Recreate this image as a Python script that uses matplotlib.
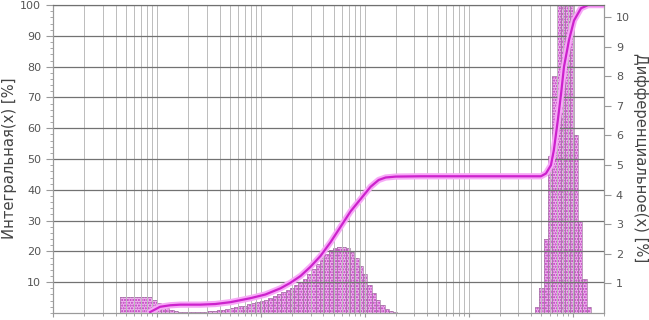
import numpy as np
import matplotlib
matplotlib.use('Agg')
import matplotlib.pyplot as plt
from matplotlib import ticker

plt.rcParams['hatch.linewidth'] = 1.0

# differential distribution, channel edges in um and values in %
fine_edges = [0.044, 0.090]
fine_values = [0.55]

main_edges = [0.0900, 0.0990, 0.1089, 0.1198, 0.1318, 0.1449, 0.1594, 0.1754,
              0.1929, 0.2122, 0.2334, 0.2568, 0.2825, 0.3107, 0.3418, 0.3760,
              0.4136, 0.4549, 0.5004, 0.5505, 0.6055, 0.6661, 0.7327, 0.8060,
              0.8866, 0.9752, 1.0728, 1.1800, 1.2980, 1.4278, 1.5706, 1.7277,
              1.9005, 2.0905, 2.2996, 2.5295, 2.7825, 3.0607, 3.3668, 3.7035,
              4.0738, 4.4812, 4.9293, 5.4223, 5.9645, 6.5609, 7.2170, 7.9387,
              8.7326, 9.6059, 10.566, 11.623, 12.785, 14.064, 15.470, 17.017,
              18.719, 20.591]
main_values = [0.45, 0.35, 0.25, 0.17, 0.10, 0.06, 0.04, 0.03, 0.03, 0.03,
               0.03, 0.03, 0.04, 0.05, 0.07, 0.09, 0.11, 0.13, 0.16, 0.19,
               0.22, 0.25, 0.29, 0.33, 0.37, 0.41, 0.45, 0.50, 0.56, 0.63,
               0.70, 0.78, 0.86, 0.94, 1.03, 1.15, 1.30, 1.48, 1.66, 1.84,
               2.00, 2.12, 2.20, 2.24, 2.24, 2.20, 2.05, 1.85, 1.60, 1.30,
               0.95, 0.68, 0.45, 0.28, 0.15, 0.07, 0.02]

coarse_edges = [434.6, 478.1, 525.9, 578.5, 636.3, 700.0, 770.0, 847.0,
                931.7, 1024.8, 1127.3, 1240.1, 1364.1, 1500.5]
coarse_values = [0.2, 0.85, 2.5, 5.3, 8.0, 10.6, 12.0, 11.5, 10.8, 6.0,
                 3.1, 1.15, 0.2]

# cumulative distribution
cum_size = [0.086, 0.107, 0.134, 0.168, 0.261, 0.364, 0.508, 0.792, 1.105,
            1.542, 1.923, 2.404, 3.0, 3.74, 4.68, 5.84, 7.29, 9.10, 11.36,
            13.58, 15.85, 19.78, 34.4, 494, 552, 617, 659, 721, 771, 824,
            920, 1028, 1202, 1404, 2000]
cum_pct = [0.3, 2.0, 2.5, 2.7, 2.7, 2.9, 3.5, 4.8, 6.0, 8.0, 9.8, 12.0, 15.0,
           18.5, 23.0, 28.0, 33.0, 37.0, 41.0, 43.2, 44.0, 44.3, 44.4, 44.4,
           45.3, 48.0, 53, 63, 71, 80, 88.6, 95, 99, 100, 100]

fig = plt.figure(figsize=(6.49, 3.2), dpi=100)
ax = fig.add_axes([0.0817, 0.022, 0.849, 0.962])
ax2 = ax.twinx()
ax.set_zorder(2)
ax.patch.set_visible(False)
ax2.patch.set_facecolor('#dcdcdc')

# histogram bars on right axis
for edges, vals in [(fine_edges, fine_values), (main_edges, main_values),
                    (coarse_edges, coarse_values)]:
    e = np.array(edges)
    w = e[1:] - e[:-1]
    ax2.bar(e[:-1], vals, width=w, align='edge', color='#eeb4ee',
            edgecolor='none', linewidth=0)
    ax2.bar(e[:-1], vals, width=w, align='edge', fill=False,
            edgecolor='#bb33bb', hatch='......', linewidth=0)
    ax2.bar(e[:-1], vals, width=w, align='edge', fill=False,
            edgecolor='#a47ca4', linewidth=0.5)

# cumulative curve on left axis
ax.plot(cum_size, cum_pct, color='#f7a8f7', lw=4.5, solid_capstyle='round')
ax.plot(cum_size, cum_pct, color='#cc22cc', lw=1.6)

ax.set_xscale('log')
ax.set_xlim(0.01, 2000)
ax.set_ylim(0, 100)
ax2.set_ylim(0, 10.4)
ax.set_yticks(range(10, 101, 10))
ax.yaxis.set_minor_locator(ticker.AutoMinorLocator(5))
ax2.set_yticks(range(1, 11))
ax.xaxis.set_major_locator(ticker.LogLocator(base=10, numticks=20))
ax.xaxis.set_minor_locator(ticker.LogLocator(base=10, subs=np.arange(2, 10), numticks=100))
ax.xaxis.set_major_formatter(ticker.NullFormatter())
ax.xaxis.set_minor_formatter(ticker.NullFormatter())

ax.grid(True, axis='x', which='both', color='#bcbcbc', lw=0.7)
ax.grid(True, axis='y', which='major', color='#727272', lw=0.9)

for a in (ax, ax2):
    for s in a.spines.values():
        s.set_color('#9a9a9a')
        s.set_linewidth(0.8)
ax.spines['top'].set_color('#707070')
ax.tick_params(axis='both', which='both', direction='out', color='#9a9a9a',
               labelcolor='#555555', labelsize=8)
ax.tick_params(axis='y', which='major', length=5)
ax.tick_params(axis='y', which='minor', length=2)
ax.tick_params(axis='x', which='major', length=3)
ax.tick_params(axis='x', which='minor', length=2)
ax2.tick_params(axis='y', direction='out', color='#9a9a9a',
                labelcolor='#555555', labelsize=8, length=5)

fig.text(0.014, 0.506, 'Интегральная(x) [%]', rotation=90, ha='center',
         va='center', fontsize=10.6, color='#444444')
fig.text(0.987, 0.508, 'Дифференциальное(x) [%]', rotation=270, ha='center',
         va='center', fontsize=10.6, color='#444444')

fig.savefig('out.png', dpi=100)
